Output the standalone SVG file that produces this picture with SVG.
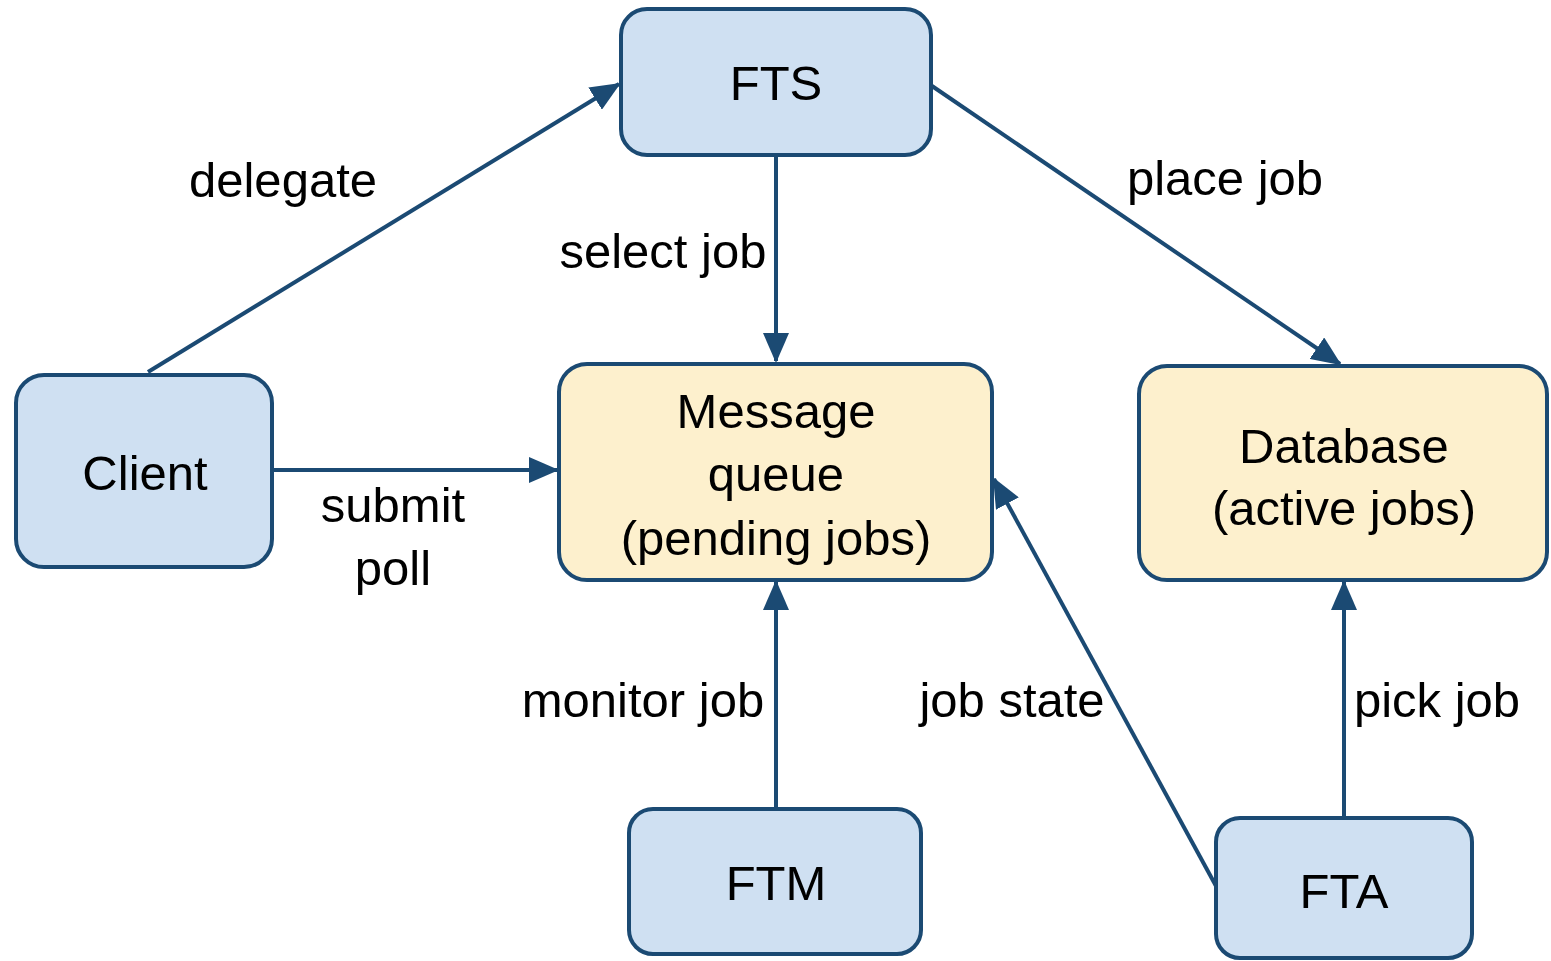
<svg xmlns="http://www.w3.org/2000/svg" width="1551" height="961" viewBox="0 0 1551 961">
<style>
.box{stroke:#1b4a73;stroke-width:4}
.blue{fill:#cfe0f2}
.yellow{fill:#fdf0cd}
text{font-family:"Liberation Sans",Arial,sans-serif;font-size:49px;fill:#000;text-anchor:middle}
.edge{stroke:#1b4a73;stroke-width:4;fill:none;marker-end:url(#arr)}
</style>
<defs>
<marker id="arr" markerUnits="userSpaceOnUse" markerWidth="30" markerHeight="26" viewBox="0 0 30 26" refX="28" refY="13" orient="auto">
<path d="M0,0 L30,13 L0,26 Z" fill="#1b4a73"/>
</marker>
</defs>
<rect width="1551" height="961" fill="#fff"/>
<g id="connectors">
<line class="edge" x1="148" y1="372" x2="619" y2="84"/>
<line class="edge" x1="776" y1="155" x2="776" y2="361"/>
<line class="edge" x1="932" y1="86" x2="1340" y2="364"/>
<line class="edge" x1="273" y1="470" x2="557" y2="470"/>
<line class="edge" x1="776" y1="808" x2="776" y2="582"/>
<line class="edge" x1="1216" y1="886" x2="994" y2="479"/>
<line class="edge" x1="1344" y1="817" x2="1344" y2="582"/>
<text x="283" y="197">delegate</text>
<text x="663" y="268">select job</text>
<text x="1225" y="195">place job</text>
<text x="393" y="522">submit</text>
<text x="393" y="585">poll</text>
<text x="643" y="717">monitor job</text>
<text x="1012" y="717">job state</text>
<text x="1437" y="717">pick job</text>
</g>
<g id="fts">
<rect class="box blue" x="621" y="9" width="310" height="146" rx="26"/>
<text x="776" y="100">FTS</text>
</g>
<g id="client">
<rect class="box blue" x="16" y="375" width="256" height="192" rx="28"/>
<text x="145" y="490">Client</text>
</g>
<g id="mq">
<rect class="box yellow" x="559" y="364" width="433" height="216" rx="28"/>
<text x="776" y="428">Message</text>
<text x="776" y="491">queue</text>
<text x="776" y="555">(pending jobs)</text>
</g>
<g id="db">
<rect class="box yellow" x="1139" y="366" width="408" height="214" rx="28"/>
<text x="1344" y="463">Database</text>
<text x="1344" y="525">(active jobs)</text>
</g>
<g id="ftm">
<rect class="box blue" x="629" y="809" width="292" height="145" rx="24"/>
<text x="776" y="900">FTM</text>
</g>
<g id="fta">
<rect class="box blue" x="1216" y="818" width="256" height="140" rx="24"/>
<text x="1344" y="908">FTA</text>
</g>
</svg>
